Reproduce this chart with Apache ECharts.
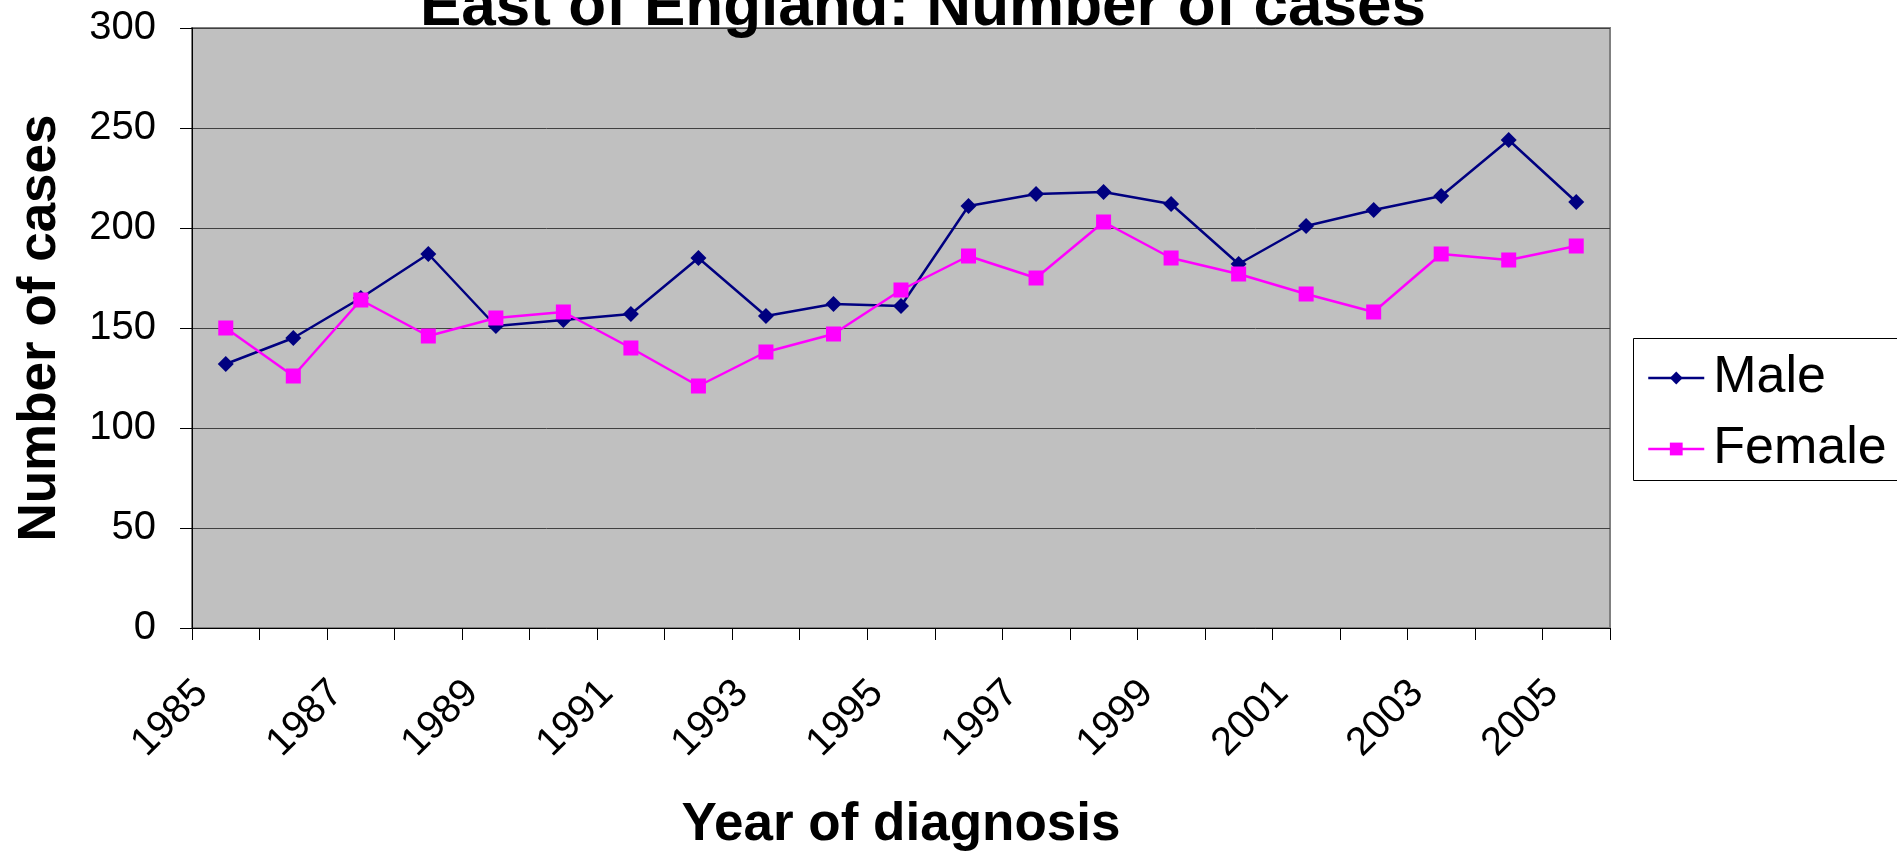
<!DOCTYPE html>
<html>
<head>
<meta charset="utf-8">
<title>East of England: Number of cases</title>
<script src="https://cdn.jsdelivr.net/npm/echarts@6/dist/echarts.min.js"></script>
<style>
    html, body { margin: 0; padding: 0; background: #fff; }
    #chart_main { width: 1897px; height: 851px; }
</style>
</head>
<body>
<div id="chart_main"></div>
<script>
// years on the x axis
var years = ['1985','1986','1987','1988','1989','1990','1991','1992','1993','1994','1995',
             '1996','1997','1998','1999','2000','2001','2002','2003','2004','2005'];
// number of cases
var male = [132, 145, 165, 187, 151, 154, 157, 185, 156, 162, 161,
            211, 217, 218, 212, 182, 201, 209, 216, 244, 213];
var female = [150, 126, 164, 146, 155, 158, 140, 121, 138, 147, 169,
              186, 175, 203, 185, 177, 167, 158, 187, 184, 191];
var yTicks = [0, 50, 100, 150, 200, 250, 300];

var font = "'Liberation Sans', Arial, sans-serif";

var myChart = echarts.init(document.getElementById('chart_main'));

var option = {
    backgroundColor: '#ffffff',
    animation: false,
    title: {
        text: 'East of England: Number of cases',
        left: 420,
        top: -23,
        padding: 0,
        textStyle: {
            fontFamily: font,
            fontSize: 62,
            fontWeight: 'bold',
            color: '#000'
        }
    },
    graphic: [
        {
            type: 'rect',
            z: 0,
            shape: { x: 1633.5, y: 338.5, width: 300, height: 142 },
            style: { fill: '#fff', stroke: '#000', lineWidth: 1 }
        }
    ],
    legend: {
        data: ['Male', 'Female'],
        orient: 'vertical',
        left: 1647,
        top: 342.5,
        padding: 0,
        itemGap: 0,
        itemWidth: 56,
        itemHeight: 16,
        lineStyle: { width: 2.5 },
        textStyle: {
            fontFamily: font,
            fontSize: 52,
            lineHeight: 71,
            color: '#000',
            padding: [0, 0, 0, 4]
        }
    },
    grid: {
        left: 192,
        right: 287,
        top: 28,
        bottom: 223,
        containLabel: false,
        outerBoundsMode: 'none',
        show: true,
        backgroundColor: '#c0c0c0',
        borderColor: '#808080',
        borderWidth: 2
    },
    xAxis: {
        type: 'category',
        data: years,
        boundaryGap: true,
        name: 'Year of diagnosis',
        nameLocation: 'middle',
        nameGap: 171,
        nameTextStyle: {
            fontFamily: font,
            fontSize: 53,
            fontWeight: 'bold',
            color: '#000'
        },
        axisLine: { lineStyle: { color: '#000', width: 1 } },
        axisTick: { show: true, interval: 0, length: 12, lineStyle: { color: '#000' } },
        axisLabel: {
            interval: 1,
            rotate: 45,
            margin: 35,
            padding: [0, 34, 0, 0],
            fontFamily: font,
            fontSize: 40,
            color: '#000'
        },
        splitLine: { show: false }
    },
    yAxis: {
        type: 'value',
        min: yTicks[0],
        max: yTicks[yTicks.length - 1],
        interval: yTicks[1] - yTicks[0],
        name: 'Number of cases',
        nameLocation: 'middle',
        nameGap: 125,
        nameTextStyle: {
            fontFamily: font,
            fontSize: 53,
            fontWeight: 'bold',
            color: '#000'
        },
        axisLine: { show: true, lineStyle: { color: '#000', width: 1 } },
        axisTick: { show: true, length: 12, lineStyle: { color: '#000' } },
        axisLabel: {
            margin: 36,
            fontFamily: font,
            fontSize: 40,
            color: '#000'
        },
        splitLine: { show: true, lineStyle: { color: '#404040', width: 1 } }
    },
    series: [
        {
            name: 'Male',
            type: 'line',
            data: male,
            symbol: 'diamond',
            symbolSize: 16,
            itemStyle: { color: '#000080' },
            lineStyle: { color: '#000080', width: 2.5 }
        },
        {
            name: 'Female',
            type: 'line',
            data: female,
            symbol: 'rect',
            symbolSize: 15,
            itemStyle: { color: '#ff00ff' },
            lineStyle: { color: '#ff00ff', width: 2.5 }
        }
    ]
};

myChart.setOption(option);
</script>
</body>
</html>
